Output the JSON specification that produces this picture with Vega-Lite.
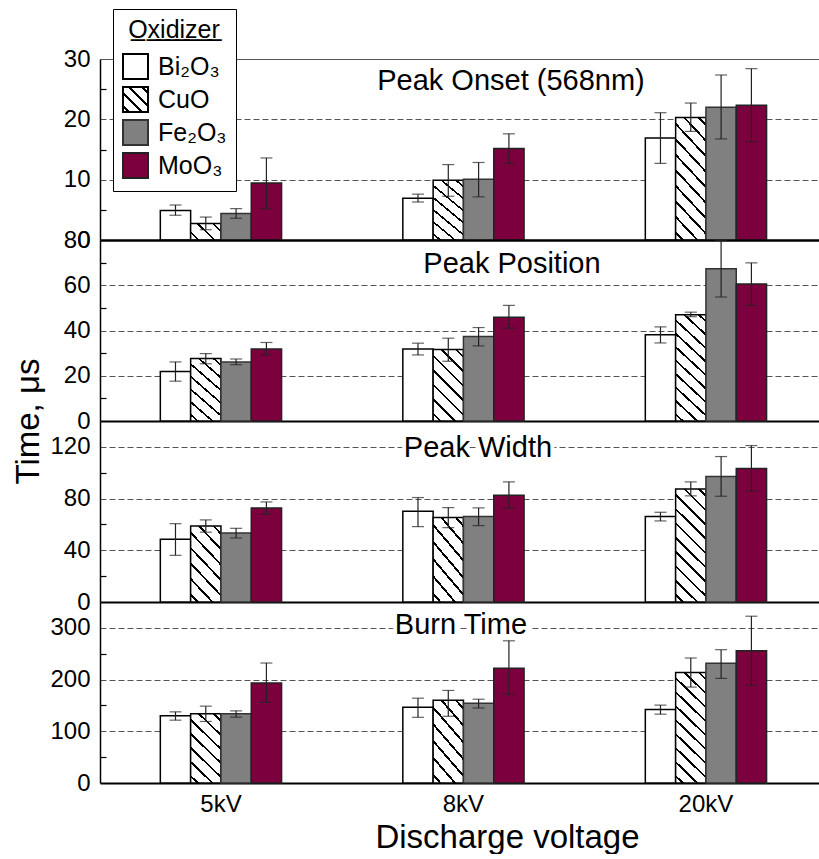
{
  "$schema": "https://vega.github.io/schema/vega-lite/v6.json",
  "padding": {"left": 12, "top": 8, "right": 0, "bottom": 0},
  "spacing": 0,
  "bounds": "flush",
  "config": {"font": "Liberation Sans", "view": {"stroke": null}},
  "resolve": {"scale": {"fill": "independent", "stroke": "independent"}},
  "datasets": {
    "d": [
      {"p": "onset", "v": "5kV", "ox": "Bi\u2082O\u2083", "m": 4.9, "lo": 4.1, "hi": 5.8},
      {"p": "onset", "v": "5kV", "ox": "CuO", "m": 2.75, "lo": 1.7, "hi": 3.8},
      {"p": "onset", "v": "5kV", "ox": "Fe\u2082O\u2083", "m": 4.4, "lo": 3.6, "hi": 5.2},
      {"p": "onset", "v": "5kV", "ox": "MoO\u2083", "m": 9.45, "lo": 5.2, "hi": 13.6},
      {"p": "onset", "v": "8kV", "ox": "Bi\u2082O\u2083", "m": 6.9, "lo": 6.3, "hi": 7.6},
      {"p": "onset", "v": "8kV", "ox": "CuO", "m": 9.9, "lo": 7.25, "hi": 12.5},
      {"p": "onset", "v": "8kV", "ox": "Fe\u2082O\u2083", "m": 10.05, "lo": 7.15, "hi": 12.85},
      {"p": "onset", "v": "8kV", "ox": "MoO\u2083", "m": 15.15, "lo": 12.7, "hi": 17.6},
      {"p": "onset", "v": "20kV", "ox": "Bi\u2082O\u2083", "m": 16.9, "lo": 12.7, "hi": 21.1},
      {"p": "onset", "v": "20kV", "ox": "CuO", "m": 20.3, "lo": 18.0, "hi": 22.7},
      {"p": "onset", "v": "20kV", "ox": "Fe\u2082O\u2083", "m": 22.0, "lo": 16.75, "hi": 27.35},
      {"p": "onset", "v": "20kV", "ox": "MoO\u2083", "m": 22.35, "lo": 16.3, "hi": 28.4},
      {"p": "pos", "v": "5kV", "ox": "Bi\u2082O\u2083", "m": 21.9, "lo": 17.6, "hi": 26.1},
      {"p": "pos", "v": "5kV", "ox": "CuO", "m": 27.6, "lo": 25.3, "hi": 29.8},
      {"p": "pos", "v": "5kV", "ox": "Fe\u2082O\u2083", "m": 26.1, "lo": 24.9, "hi": 27.4},
      {"p": "pos", "v": "5kV", "ox": "MoO\u2083", "m": 31.85, "lo": 29.2, "hi": 34.7},
      {"p": "pos", "v": "8kV", "ox": "Bi\u2082O\u2083", "m": 31.85, "lo": 29.2, "hi": 34.4},
      {"p": "pos", "v": "8kV", "ox": "CuO", "m": 31.6, "lo": 26.4, "hi": 36.6},
      {"p": "pos", "v": "8kV", "ox": "Fe\u2082O\u2083", "m": 37.3, "lo": 33.2, "hi": 41.3},
      {"p": "pos", "v": "8kV", "ox": "MoO\u2083", "m": 45.9, "lo": 41.0, "hi": 51.1},
      {"p": "pos", "v": "20kV", "ox": "Bi\u2082O\u2083", "m": 38.1, "lo": 34.5, "hi": 41.6},
      {"p": "pos", "v": "20kV", "ox": "CuO", "m": 47.0, "lo": 46.1, "hi": 48.1},
      {"p": "pos", "v": "20kV", "ox": "Fe\u2082O\u2083", "m": 67.3, "lo": 54.8, "hi": 79.8},
      {"p": "pos", "v": "20kV", "ox": "MoO\u2083", "m": 60.6, "lo": 51.1, "hi": 69.9},
      {"p": "width", "v": "5kV", "ox": "Bi\u2082O\u2083", "m": 48.5, "lo": 36.1, "hi": 60.6},
      {"p": "width", "v": "5kV", "ox": "CuO", "m": 58.8, "lo": 54.0, "hi": 63.5},
      {"p": "width", "v": "5kV", "ox": "Fe\u2082O\u2083", "m": 53.4, "lo": 49.5, "hi": 57.0},
      {"p": "width", "v": "5kV", "ox": "MoO\u2083", "m": 72.8, "lo": 68.0, "hi": 77.4},
      {"p": "width", "v": "8kV", "ox": "Bi\u2082O\u2083", "m": 70.2, "lo": 58.3, "hi": 80.8},
      {"p": "width", "v": "8kV", "ox": "CuO", "m": 65.3, "lo": 57.5, "hi": 73.0},
      {"p": "width", "v": "8kV", "ox": "Fe\u2082O\u2083", "m": 66.1, "lo": 59.1, "hi": 72.8},
      {"p": "width", "v": "8kV", "ox": "MoO\u2083", "m": 82.6, "lo": 72.5, "hi": 92.9},
      {"p": "width", "v": "20kV", "ox": "Bi\u2082O\u2083", "m": 66.1, "lo": 62.7, "hi": 69.4},
      {"p": "width", "v": "20kV", "ox": "CuO", "m": 87.5, "lo": 82.1, "hi": 92.9},
      {"p": "width", "v": "20kV", "ox": "Fe\u2082O\u2083", "m": 97.0, "lo": 81.8, "hi": 112.5},
      {"p": "width", "v": "20kV", "ox": "MoO\u2083", "m": 103.2, "lo": 85.7, "hi": 121.0},
      {"p": "burn", "v": "5kV", "ox": "Bi\u2082O\u2083", "m": 129.8, "lo": 121.5, "hi": 137.6},
      {"p": "burn", "v": "5kV", "ox": "CuO", "m": 133.7, "lo": 119.0, "hi": 148.6},
      {"p": "burn", "v": "5kV", "ox": "Fe\u2082O\u2083", "m": 133.7, "lo": 127.3, "hi": 139.5},
      {"p": "burn", "v": "5kV", "ox": "MoO\u2083", "m": 193.2, "lo": 155.8, "hi": 232.0},
      {"p": "burn", "v": "8kV", "ox": "Bi\u2082O\u2083", "m": 146.7, "lo": 127.0, "hi": 164.0},
      {"p": "burn", "v": "8kV", "ox": "CuO", "m": 160.0, "lo": 129.0, "hi": 179.0},
      {"p": "burn", "v": "8kV", "ox": "Fe\u2082O\u2083", "m": 154.0, "lo": 145.0, "hi": 162.0},
      {"p": "burn", "v": "8kV", "ox": "MoO\u2083", "m": 222.0, "lo": 172.0, "hi": 275.0},
      {"p": "burn", "v": "20kV", "ox": "Bi\u2082O\u2083", "m": 142.2, "lo": 133.1, "hi": 150.6},
      {"p": "burn", "v": "20kV", "ox": "CuO", "m": 213.9, "lo": 185.5, "hi": 241.7},
      {"p": "burn", "v": "20kV", "ox": "Fe\u2082O\u2083", "m": 231.4, "lo": 202.3, "hi": 257.8},
      {"p": "burn", "v": "20kV", "ox": "MoO\u2083", "m": 255.8, "lo": 188.8, "hi": 322.5}
    ]
  },
  "data": {"name": "d"},
  "vconcat": [
    {
      "width": 719, "height": 181,
      "transform": [{"filter": "datum.p === 'onset'"}],
      "resolve": {"axis": {"y": "independent"}},
      "layer": [
        {
          "mark": {"type": "bar", "strokeWidth": 1.5},
          "encoding": {
            "x": {"field": "v", "type": "nominal", "sort": ["5kV", "8kV", "20kV"], "scale": {"paddingInner": 0.5, "paddingOuter": 0.2325, "align": 0.535}, "axis": null},
            "xOffset": {"field": "ox", "type": "nominal", "sort": ["Bi\u2082O\u2083", "CuO", "Fe\u2082O\u2083", "MoO\u2083"], "scale": {"paddingInner": 0, "paddingOuter": 0}},
            "y": {"field": "m", "type": "quantitative", "scale": {"domain": [0, 30], "nice": false},
              "axis": {"values": [0, 10, 20, 30], "title": null, "ticks": false, "labelFontSize": 24, "labelColor": "black", "labelPadding": 10, "domainColor": "black", "domainWidth": 1.5, "grid": true,
                "gridColor": {"condition": {"test": "datum.value === 0", "value": "black"}, "value": "#555555"},
                "gridDash": {"condition": {"test": "datum.value === 0 || datum.value === 30", "value": []}, "value": [6, 3]},
                "gridWidth": {"condition": {"test": "datum.value === 0", "value": 2}, "value": 1}}},
            "stroke": {"field": "ox", "type": "nominal",
              "scale": {"domain": ["Bi\u2082O\u2083", "CuO", "Fe\u2082O\u2083", "MoO\u2083"], "range": ["#000000", "#000000", "#333333", "#222222"]},
              "legend": {"orient": "none", "legendX": 13, "legendY": -50, "title": "O\u0332x\u0332i\u0332d\u0332i\u0332z\u0332e\u0332r\u0332", "titleFontSize": 25, "titleFontWeight": "normal", "titleColor": "black", "titleAnchor": "middle", "titlePadding": 10, "labelFontSize": 25, "labelColor": "black", "labelOffset": 9, "symbolType": "square", "symbolSize": 625, "symbolStrokeWidth": 2, "symbolOpacity": 1, "rowPadding": 0, "padding": 9, "strokeColor": "black", "fillColor": "white"}},
            "fill": {
              "condition": [
                {"test": "datum.ox === 'CuO' && datum.m < 5", "value": {"gradient": "linear", "x1": 0, "y1": 1, "x2": 1.19, "y2": 0.335, "stops": [{"offset": 0, "color": "white"}, {"offset": 0.144, "color": "white"}, {"offset": 0.144, "color": "black"}, {"offset": 0.19, "color": "black"}, {"offset": 0.19, "color": "white"}, {"offset": 0.477, "color": "white"}, {"offset": 0.477, "color": "black"}, {"offset": 0.523, "color": "black"}, {"offset": 0.523, "color": "white"}, {"offset": 0.81, "color": "white"}, {"offset": 0.81, "color": "black"}, {"offset": 0.856, "color": "black"}, {"offset": 0.856, "color": "white"}, {"offset": 1, "color": "white"}]}},
                {"test": "datum.ox === 'CuO' && datum.m < 15", "value": {"gradient": "linear", "x1": 0, "y1": 1, "x2": 0.509, "y2": -0.206, "stops": [{"offset": 0, "color": "white"}, {"offset": 0.059, "color": "white"}, {"offset": 0.059, "color": "black"}, {"offset": 0.084, "color": "black"}, {"offset": 0.084, "color": "white"}, {"offset": 0.202, "color": "white"}, {"offset": 0.202, "color": "black"}, {"offset": 0.227, "color": "black"}, {"offset": 0.227, "color": "white"}, {"offset": 0.345, "color": "white"}, {"offset": 0.345, "color": "black"}, {"offset": 0.37, "color": "black"}, {"offset": 0.37, "color": "white"}, {"offset": 0.4875, "color": "white"}, {"offset": 0.4875, "color": "black"}, {"offset": 0.5125, "color": "black"}, {"offset": 0.5125, "color": "white"}, {"offset": 0.63, "color": "white"}, {"offset": 0.63, "color": "black"}, {"offset": 0.655, "color": "black"}, {"offset": 0.655, "color": "white"}, {"offset": 0.773, "color": "white"}, {"offset": 0.773, "color": "black"}, {"offset": 0.798, "color": "black"}, {"offset": 0.798, "color": "white"}, {"offset": 0.916, "color": "white"}, {"offset": 0.916, "color": "black"}, {"offset": 0.941, "color": "black"}, {"offset": 0.941, "color": "white"}, {"offset": 1, "color": "white"}]}},
                {"test": "datum.ox === 'CuO'", "value": {"gradient": "linear", "x1": 0, "y1": 1, "x2": 0.313, "y2": -0.182, "stops": [{"offset": 0, "color": "white"}, {"offset": 0.041, "color": "white"}, {"offset": 0.041, "color": "black"}, {"offset": 0.059, "color": "black"}, {"offset": 0.059, "color": "white"}, {"offset": 0.141, "color": "white"}, {"offset": 0.141, "color": "black"}, {"offset": 0.159, "color": "black"}, {"offset": 0.159, "color": "white"}, {"offset": 0.241, "color": "white"}, {"offset": 0.241, "color": "black"}, {"offset": 0.259, "color": "black"}, {"offset": 0.259, "color": "white"}, {"offset": 0.341, "color": "white"}, {"offset": 0.341, "color": "black"}, {"offset": 0.359, "color": "black"}, {"offset": 0.359, "color": "white"}, {"offset": 0.441, "color": "white"}, {"offset": 0.441, "color": "black"}, {"offset": 0.459, "color": "black"}, {"offset": 0.459, "color": "white"}, {"offset": 0.541, "color": "white"}, {"offset": 0.541, "color": "black"}, {"offset": 0.559, "color": "black"}, {"offset": 0.559, "color": "white"}, {"offset": 0.641, "color": "white"}, {"offset": 0.641, "color": "black"}, {"offset": 0.659, "color": "black"}, {"offset": 0.659, "color": "white"}, {"offset": 0.741, "color": "white"}, {"offset": 0.741, "color": "black"}, {"offset": 0.759, "color": "black"}, {"offset": 0.759, "color": "white"}, {"offset": 0.841, "color": "white"}, {"offset": 0.841, "color": "black"}, {"offset": 0.859, "color": "black"}, {"offset": 0.859, "color": "white"}, {"offset": 0.941, "color": "white"}, {"offset": 0.941, "color": "black"}, {"offset": 0.959, "color": "black"}, {"offset": 0.959, "color": "white"}, {"offset": 1, "color": "white"}]}}
              ],
              "field": "ox", "type": "nominal",
              "scale": {"domain": ["Bi\u2082O\u2083", "CuO", "Fe\u2082O\u2083", "MoO\u2083"], "range": ["#ffffff", {"expr": "{gradient: 'linear', x1: 0, y1: 1, x2: 1, y2: 0, stops: [{offset: 0, color: 'white'}, {offset: 0.095, color: 'white'}, {offset: 0.095, color: 'black'}, {offset: 0.155, color: 'black'}, {offset: 0.155, color: 'white'}, {offset: 0.345, color: 'white'}, {offset: 0.345, color: 'black'}, {offset: 0.405, color: 'black'}, {offset: 0.405, color: 'white'}, {offset: 0.595, color: 'white'}, {offset: 0.595, color: 'black'}, {offset: 0.655, color: 'black'}, {offset: 0.655, color: 'white'}, {offset: 0.845, color: 'white'}, {offset: 0.845, color: 'black'}, {offset: 0.905, color: 'black'}, {offset: 0.905, color: 'white'}, {offset: 1, color: 'white'}]}"}, "#808080", "#7d003e"]},
              "legend": {"orient": "none", "legendX": 13, "legendY": -50, "title": "O\u0332x\u0332i\u0332d\u0332i\u0332z\u0332e\u0332r\u0332", "titleFontSize": 25, "titleFontWeight": "normal", "titleColor": "black", "titleAnchor": "middle", "titlePadding": 10, "labelFontSize": 25, "labelColor": "black", "labelOffset": 9, "symbolType": "square", "symbolSize": 625, "symbolStrokeWidth": 2, "symbolOpacity": 1, "rowPadding": 0, "padding": 9, "strokeColor": "black", "fillColor": "white"}
            }
          }
        },
        {
          "mark": {"type": "rule", "color": "#222222", "strokeWidth": 1.2},
          "encoding": {
            "x": {"field": "v", "type": "nominal", "sort": ["5kV", "8kV", "20kV"], "scale": {"paddingInner": 0.5, "paddingOuter": 0.2325, "align": 0.535}, "axis": null},
            "xOffset": {"field": "ox", "type": "nominal", "sort": ["Bi\u2082O\u2083", "CuO", "Fe\u2082O\u2083", "MoO\u2083"], "scale": {"paddingInner": 0, "paddingOuter": 0}},
            "y": {"field": "lo", "type": "quantitative", "scale": {"domain": [0, 30], "nice": false},
              "axis": {"orient": "right", "offset": -719, "values": [5, 15, 25], "labels": false, "domain": false, "grid": false, "ticks": true, "tickSize": 6, "tickColor": "black", "tickWidth": 1.2, "title": null}},
            "y2": {"field": "hi"}
          }
        },
        {
          "mark": {"type": "tick", "color": "#222222", "size": 12, "thickness": 1.2},
          "encoding": {
            "x": {"field": "v", "type": "nominal", "sort": ["5kV", "8kV", "20kV"], "scale": {"paddingInner": 0.5, "paddingOuter": 0.2325, "align": 0.535}, "axis": null},
            "xOffset": {"field": "ox", "type": "nominal", "sort": ["Bi\u2082O\u2083", "CuO", "Fe\u2082O\u2083", "MoO\u2083"], "scale": {"paddingInner": 0, "paddingOuter": 0}},
            "y": {"field": "lo", "type": "quantitative", "scale": {"domain": [0, 30], "nice": false}, "axis": null}
          }
        },
        {
          "mark": {"type": "tick", "color": "#222222", "size": 12, "thickness": 1.2},
          "encoding": {
            "x": {"field": "v", "type": "nominal", "sort": ["5kV", "8kV", "20kV"], "scale": {"paddingInner": 0.5, "paddingOuter": 0.2325, "align": 0.535}, "axis": null},
            "xOffset": {"field": "ox", "type": "nominal", "sort": ["Bi\u2082O\u2083", "CuO", "Fe\u2082O\u2083", "MoO\u2083"], "scale": {"paddingInner": 0, "paddingOuter": 0}},
            "y": {"field": "hi", "type": "quantitative", "scale": {"domain": [0, 30], "nice": false}, "axis": null}
          }
        },
        {
          "transform": [{"filter": "datum.v === '8kV' && datum.ox === 'CuO'"}],
          "mark": {"type": "text", "fontSize": 29, "baseline": "alphabetic", "align": "center", "dx": 47.5, "color": "black"},
          "encoding": {
            "x": {"field": "v", "type": "nominal", "sort": ["5kV", "8kV", "20kV"], "scale": {"paddingInner": 0.5, "paddingOuter": 0.2325, "align": 0.535}, "axis": null},
            "y": {"datum": 24.9, "type": "quantitative", "scale": {"domain": [0, 30], "nice": false}, "axis": null},
            "text": {"value": "Peak Onset (568nm)"}
          }
        }
      ]
    },
    {
      "width": 719, "height": 181,
      "transform": [{"filter": "datum.p === 'pos'"}],
      "resolve": {"axis": {"y": "independent"}},
      "layer": [
        {
          "mark": {"type": "bar", "strokeWidth": 1.5},
          "encoding": {
            "x": {"field": "v", "type": "nominal", "sort": ["5kV", "8kV", "20kV"], "scale": {"paddingInner": 0.5, "paddingOuter": 0.2325, "align": 0.535}, "axis": null},
            "xOffset": {"field": "ox", "type": "nominal", "sort": ["Bi\u2082O\u2083", "CuO", "Fe\u2082O\u2083", "MoO\u2083"], "scale": {"paddingInner": 0, "paddingOuter": 0}},
            "y": {"field": "m", "type": "quantitative", "scale": {"domain": [0, 80], "nice": false},
              "axis": {"values": [0, 20, 40, 60, 80], "title": "Time, \u03bcs", "titleFontSize": 33, "titleFontWeight": "normal", "titleColor": "black", "titleX": -55, "titleY": 181, "titleAngle": -90, "titleAlign": "center", "titleBaseline": "bottom",
                "ticks": false, "labelFontSize": 24, "labelColor": "black", "labelPadding": 10, "domainColor": "black", "domainWidth": 1.5, "grid": true,
                "gridColor": {"condition": {"test": "datum.value === 0 || datum.value === 80", "value": "black"}, "value": "#555555"},
                "gridDash": {"condition": {"test": "datum.value === 0 || datum.value === 80", "value": []}, "value": [6, 3]},
                "gridWidth": {"condition": {"test": "datum.value === 0 || datum.value === 80", "value": 2}, "value": 1}}},
            "stroke": {"field": "ox", "type": "nominal", "scale": {"domain": ["Bi\u2082O\u2083", "CuO", "Fe\u2082O\u2083", "MoO\u2083"], "range": ["#000000", "#000000", "#333333", "#222222"]}, "legend": null},
            "fill": {
              "condition": [
                {"test": "datum.ox === 'CuO' && datum.m < 40", "value": {"gradient": "linear", "x1": 0, "y1": 1, "x2": 0.509, "y2": -0.206, "stops": [{"offset": 0, "color": "white"}, {"offset": 0.059, "color": "white"}, {"offset": 0.059, "color": "black"}, {"offset": 0.084, "color": "black"}, {"offset": 0.084, "color": "white"}, {"offset": 0.202, "color": "white"}, {"offset": 0.202, "color": "black"}, {"offset": 0.227, "color": "black"}, {"offset": 0.227, "color": "white"}, {"offset": 0.345, "color": "white"}, {"offset": 0.345, "color": "black"}, {"offset": 0.37, "color": "black"}, {"offset": 0.37, "color": "white"}, {"offset": 0.4875, "color": "white"}, {"offset": 0.4875, "color": "black"}, {"offset": 0.5125, "color": "black"}, {"offset": 0.5125, "color": "white"}, {"offset": 0.63, "color": "white"}, {"offset": 0.63, "color": "black"}, {"offset": 0.655, "color": "black"}, {"offset": 0.655, "color": "white"}, {"offset": 0.773, "color": "white"}, {"offset": 0.773, "color": "black"}, {"offset": 0.798, "color": "black"}, {"offset": 0.798, "color": "white"}, {"offset": 0.916, "color": "white"}, {"offset": 0.916, "color": "black"}, {"offset": 0.941, "color": "black"}, {"offset": 0.941, "color": "white"}, {"offset": 1, "color": "white"}]}},
                {"test": "datum.ox === 'CuO'", "value": {"gradient": "linear", "x1": 0, "y1": 1, "x2": 0.313, "y2": -0.182, "stops": [{"offset": 0, "color": "white"}, {"offset": 0.041, "color": "white"}, {"offset": 0.041, "color": "black"}, {"offset": 0.059, "color": "black"}, {"offset": 0.059, "color": "white"}, {"offset": 0.141, "color": "white"}, {"offset": 0.141, "color": "black"}, {"offset": 0.159, "color": "black"}, {"offset": 0.159, "color": "white"}, {"offset": 0.241, "color": "white"}, {"offset": 0.241, "color": "black"}, {"offset": 0.259, "color": "black"}, {"offset": 0.259, "color": "white"}, {"offset": 0.341, "color": "white"}, {"offset": 0.341, "color": "black"}, {"offset": 0.359, "color": "black"}, {"offset": 0.359, "color": "white"}, {"offset": 0.441, "color": "white"}, {"offset": 0.441, "color": "black"}, {"offset": 0.459, "color": "black"}, {"offset": 0.459, "color": "white"}, {"offset": 0.541, "color": "white"}, {"offset": 0.541, "color": "black"}, {"offset": 0.559, "color": "black"}, {"offset": 0.559, "color": "white"}, {"offset": 0.641, "color": "white"}, {"offset": 0.641, "color": "black"}, {"offset": 0.659, "color": "black"}, {"offset": 0.659, "color": "white"}, {"offset": 0.741, "color": "white"}, {"offset": 0.741, "color": "black"}, {"offset": 0.759, "color": "black"}, {"offset": 0.759, "color": "white"}, {"offset": 0.841, "color": "white"}, {"offset": 0.841, "color": "black"}, {"offset": 0.859, "color": "black"}, {"offset": 0.859, "color": "white"}, {"offset": 0.941, "color": "white"}, {"offset": 0.941, "color": "black"}, {"offset": 0.959, "color": "black"}, {"offset": 0.959, "color": "white"}, {"offset": 1, "color": "white"}]}}
              ],
              "field": "ox", "type": "nominal",
              "scale": {"domain": ["Bi\u2082O\u2083", "CuO", "Fe\u2082O\u2083", "MoO\u2083"], "range": ["#ffffff", "#ffffff", "#808080", "#7d003e"]},
              "legend": null
            }
          }
        },
        {
          "mark": {"type": "rule", "color": "#222222", "strokeWidth": 1.2},
          "encoding": {
            "x": {"field": "v", "type": "nominal", "sort": ["5kV", "8kV", "20kV"], "scale": {"paddingInner": 0.5, "paddingOuter": 0.2325, "align": 0.535}, "axis": null},
            "xOffset": {"field": "ox", "type": "nominal", "sort": ["Bi\u2082O\u2083", "CuO", "Fe\u2082O\u2083", "MoO\u2083"], "scale": {"paddingInner": 0, "paddingOuter": 0}},
            "y": {"field": "lo", "type": "quantitative", "scale": {"domain": [0, 80], "nice": false},
              "axis": {"orient": "right", "offset": -719, "values": [10, 30, 50, 70], "labels": false, "domain": false, "grid": false, "ticks": true, "tickSize": 6, "tickColor": "black", "tickWidth": 1.2, "title": null}},
            "y2": {"field": "hi"}
          }
        },
        {
          "mark": {"type": "tick", "color": "#222222", "size": 12, "thickness": 1.2},
          "encoding": {
            "x": {"field": "v", "type": "nominal", "sort": ["5kV", "8kV", "20kV"], "scale": {"paddingInner": 0.5, "paddingOuter": 0.2325, "align": 0.535}, "axis": null},
            "xOffset": {"field": "ox", "type": "nominal", "sort": ["Bi\u2082O\u2083", "CuO", "Fe\u2082O\u2083", "MoO\u2083"], "scale": {"paddingInner": 0, "paddingOuter": 0}},
            "y": {"field": "lo", "type": "quantitative", "scale": {"domain": [0, 80], "nice": false}, "axis": null}
          }
        },
        {
          "mark": {"type": "tick", "color": "#222222", "size": 12, "thickness": 1.2},
          "encoding": {
            "x": {"field": "v", "type": "nominal", "sort": ["5kV", "8kV", "20kV"], "scale": {"paddingInner": 0.5, "paddingOuter": 0.2325, "align": 0.535}, "axis": null},
            "xOffset": {"field": "ox", "type": "nominal", "sort": ["Bi\u2082O\u2083", "CuO", "Fe\u2082O\u2083", "MoO\u2083"], "scale": {"paddingInner": 0, "paddingOuter": 0}},
            "y": {"field": "hi", "type": "quantitative", "scale": {"domain": [0, 80], "nice": false}, "axis": null}
          }
        },
        {
          "transform": [{"filter": "datum.v === '8kV' && datum.ox === 'CuO'"}],
          "mark": {"type": "text", "fontSize": 29, "baseline": "alphabetic", "align": "center", "dx": 48.5, "color": "black"},
          "encoding": {
            "x": {"field": "v", "type": "nominal", "sort": ["5kV", "8kV", "20kV"], "scale": {"paddingInner": 0.5, "paddingOuter": 0.2325, "align": 0.535}, "axis": null},
            "y": {"datum": 65.3, "type": "quantitative", "scale": {"domain": [0, 80], "nice": false}, "axis": null},
            "text": {"value": "Peak Position"}
          }
        }
      ]
    },
    {
      "width": 719, "height": 181,
      "transform": [{"filter": "datum.p === 'width'"}],
      "resolve": {"axis": {"y": "independent"}},
      "layer": [
        {
          "mark": {"type": "bar", "strokeWidth": 1.5},
          "encoding": {
            "x": {"field": "v", "type": "nominal", "sort": ["5kV", "8kV", "20kV"], "scale": {"paddingInner": 0.5, "paddingOuter": 0.2325, "align": 0.535}, "axis": null},
            "xOffset": {"field": "ox", "type": "nominal", "sort": ["Bi\u2082O\u2083", "CuO", "Fe\u2082O\u2083", "MoO\u2083"], "scale": {"paddingInner": 0, "paddingOuter": 0}},
            "y": {"field": "m", "type": "quantitative", "scale": {"domain": [0, 140], "nice": false},
              "axis": {"values": [0, 40, 80, 120], "title": null, "ticks": false, "labelFontSize": 24, "labelColor": "black", "labelPadding": 10, "domainColor": "black", "domainWidth": 1.5, "grid": true,
                "gridColor": {"condition": {"test": "datum.value === 0", "value": "black"}, "value": "#555555"},
                "gridDash": {"condition": {"test": "datum.value === 0", "value": []}, "value": [6, 3]},
                "gridWidth": {"condition": {"test": "datum.value === 0", "value": 2}, "value": 1}}},
            "stroke": {"field": "ox", "type": "nominal", "scale": {"domain": ["Bi\u2082O\u2083", "CuO", "Fe\u2082O\u2083", "MoO\u2083"], "range": ["#000000", "#000000", "#333333", "#222222"]}, "legend": null},
            "fill": {
              "condition": [
                {"test": "datum.ox === 'CuO' && datum.m < 75", "value": {"gradient": "linear", "x1": 0, "y1": 1, "x2": 0.509, "y2": -0.206, "stops": [{"offset": 0, "color": "white"}, {"offset": 0.059, "color": "white"}, {"offset": 0.059, "color": "black"}, {"offset": 0.084, "color": "black"}, {"offset": 0.084, "color": "white"}, {"offset": 0.202, "color": "white"}, {"offset": 0.202, "color": "black"}, {"offset": 0.227, "color": "black"}, {"offset": 0.227, "color": "white"}, {"offset": 0.345, "color": "white"}, {"offset": 0.345, "color": "black"}, {"offset": 0.37, "color": "black"}, {"offset": 0.37, "color": "white"}, {"offset": 0.4875, "color": "white"}, {"offset": 0.4875, "color": "black"}, {"offset": 0.5125, "color": "black"}, {"offset": 0.5125, "color": "white"}, {"offset": 0.63, "color": "white"}, {"offset": 0.63, "color": "black"}, {"offset": 0.655, "color": "black"}, {"offset": 0.655, "color": "white"}, {"offset": 0.773, "color": "white"}, {"offset": 0.773, "color": "black"}, {"offset": 0.798, "color": "black"}, {"offset": 0.798, "color": "white"}, {"offset": 0.916, "color": "white"}, {"offset": 0.916, "color": "black"}, {"offset": 0.941, "color": "black"}, {"offset": 0.941, "color": "white"}, {"offset": 1, "color": "white"}]}},
                {"test": "datum.ox === 'CuO'", "value": {"gradient": "linear", "x1": 0, "y1": 1, "x2": 0.313, "y2": -0.182, "stops": [{"offset": 0, "color": "white"}, {"offset": 0.041, "color": "white"}, {"offset": 0.041, "color": "black"}, {"offset": 0.059, "color": "black"}, {"offset": 0.059, "color": "white"}, {"offset": 0.141, "color": "white"}, {"offset": 0.141, "color": "black"}, {"offset": 0.159, "color": "black"}, {"offset": 0.159, "color": "white"}, {"offset": 0.241, "color": "white"}, {"offset": 0.241, "color": "black"}, {"offset": 0.259, "color": "black"}, {"offset": 0.259, "color": "white"}, {"offset": 0.341, "color": "white"}, {"offset": 0.341, "color": "black"}, {"offset": 0.359, "color": "black"}, {"offset": 0.359, "color": "white"}, {"offset": 0.441, "color": "white"}, {"offset": 0.441, "color": "black"}, {"offset": 0.459, "color": "black"}, {"offset": 0.459, "color": "white"}, {"offset": 0.541, "color": "white"}, {"offset": 0.541, "color": "black"}, {"offset": 0.559, "color": "black"}, {"offset": 0.559, "color": "white"}, {"offset": 0.641, "color": "white"}, {"offset": 0.641, "color": "black"}, {"offset": 0.659, "color": "black"}, {"offset": 0.659, "color": "white"}, {"offset": 0.741, "color": "white"}, {"offset": 0.741, "color": "black"}, {"offset": 0.759, "color": "black"}, {"offset": 0.759, "color": "white"}, {"offset": 0.841, "color": "white"}, {"offset": 0.841, "color": "black"}, {"offset": 0.859, "color": "black"}, {"offset": 0.859, "color": "white"}, {"offset": 0.941, "color": "white"}, {"offset": 0.941, "color": "black"}, {"offset": 0.959, "color": "black"}, {"offset": 0.959, "color": "white"}, {"offset": 1, "color": "white"}]}}
              ],
              "field": "ox", "type": "nominal",
              "scale": {"domain": ["Bi\u2082O\u2083", "CuO", "Fe\u2082O\u2083", "MoO\u2083"], "range": ["#ffffff", "#ffffff", "#808080", "#7d003e"]},
              "legend": null
            }
          }
        },
        {
          "mark": {"type": "rule", "color": "#222222", "strokeWidth": 1.2},
          "encoding": {
            "x": {"field": "v", "type": "nominal", "sort": ["5kV", "8kV", "20kV"], "scale": {"paddingInner": 0.5, "paddingOuter": 0.2325, "align": 0.535}, "axis": null},
            "xOffset": {"field": "ox", "type": "nominal", "sort": ["Bi\u2082O\u2083", "CuO", "Fe\u2082O\u2083", "MoO\u2083"], "scale": {"paddingInner": 0, "paddingOuter": 0}},
            "y": {"field": "lo", "type": "quantitative", "scale": {"domain": [0, 140], "nice": false},
              "axis": {"orient": "right", "offset": -719, "values": [20, 60, 100], "labels": false, "domain": false, "grid": false, "ticks": true, "tickSize": 6, "tickColor": "black", "tickWidth": 1.2, "title": null}},
            "y2": {"field": "hi"}
          }
        },
        {
          "mark": {"type": "tick", "color": "#222222", "size": 12, "thickness": 1.2},
          "encoding": {
            "x": {"field": "v", "type": "nominal", "sort": ["5kV", "8kV", "20kV"], "scale": {"paddingInner": 0.5, "paddingOuter": 0.2325, "align": 0.535}, "axis": null},
            "xOffset": {"field": "ox", "type": "nominal", "sort": ["Bi\u2082O\u2083", "CuO", "Fe\u2082O\u2083", "MoO\u2083"], "scale": {"paddingInner": 0, "paddingOuter": 0}},
            "y": {"field": "lo", "type": "quantitative", "scale": {"domain": [0, 140], "nice": false}, "axis": null}
          }
        },
        {
          "mark": {"type": "tick", "color": "#222222", "size": 12, "thickness": 1.2},
          "encoding": {
            "x": {"field": "v", "type": "nominal", "sort": ["5kV", "8kV", "20kV"], "scale": {"paddingInner": 0.5, "paddingOuter": 0.2325, "align": 0.535}, "axis": null},
            "xOffset": {"field": "ox", "type": "nominal", "sort": ["Bi\u2082O\u2083", "CuO", "Fe\u2082O\u2083", "MoO\u2083"], "scale": {"paddingInner": 0, "paddingOuter": 0}},
            "y": {"field": "hi", "type": "quantitative", "scale": {"domain": [0, 140], "nice": false}, "axis": null}
          }
        },
        {
          "transform": [{"filter": "datum.v === '8kV' && datum.ox === 'CuO'"}],
          "mark": {"type": "text", "fontSize": 29, "baseline": "alphabetic", "align": "center", "dx": 14.5, "color": "white", "stroke": "white", "strokeWidth": 8},
          "encoding": {
            "x": {"field": "v", "type": "nominal", "sort": ["5kV", "8kV", "20kV"], "scale": {"paddingInner": 0.5, "paddingOuter": 0.2325, "align": 0.535}, "axis": null},
            "y": {"datum": 112.3, "type": "quantitative", "scale": {"domain": [0, 140], "nice": false}, "axis": null},
            "text": {"value": "Peak Width"}
          }
        },
        {
          "transform": [{"filter": "datum.v === '8kV' && datum.ox === 'CuO'"}],
          "mark": {"type": "text", "fontSize": 29, "baseline": "alphabetic", "align": "center", "dx": 14.5, "color": "black"},
          "encoding": {
            "x": {"field": "v", "type": "nominal", "sort": ["5kV", "8kV", "20kV"], "scale": {"paddingInner": 0.5, "paddingOuter": 0.2325, "align": 0.535}, "axis": null},
            "y": {"datum": 112.3, "type": "quantitative", "scale": {"domain": [0, 140], "nice": false}, "axis": null},
            "text": {"value": "Peak Width"}
          }
        }
      ]
    },
    {
      "width": 719, "height": 181,
      "transform": [{"filter": "datum.p === 'burn'"}],
      "resolve": {"axis": {"y": "independent"}},
      "layer": [
        {
          "mark": {"type": "bar", "strokeWidth": 1.5},
          "encoding": {
            "x": {"field": "v", "type": "nominal", "sort": ["5kV", "8kV", "20kV"], "scale": {"paddingInner": 0.5, "paddingOuter": 0.2325, "align": 0.535},
              "axis": {"title": "Discharge voltage", "titleFontSize": 33, "titleFontWeight": "normal", "titleColor": "black", "titlePadding": 5, "titleX": 407, "labelFontSize": 24, "labelColor": "black", "labelAngle": 0, "labelPadding": 9, "labelExpr": "datum.value === '8kV' ? '8kV\u00a0\u00a0\u00a0\u00a0\u00a0' : (datum.value === '5kV' ? '5kV\u00a0\u00a0' : '\u00a0\u00a0\u00a0' + datum.value)", "ticks": false, "domain": false}},
            "xOffset": {"field": "ox", "type": "nominal", "sort": ["Bi\u2082O\u2083", "CuO", "Fe\u2082O\u2083", "MoO\u2083"], "scale": {"paddingInner": 0, "paddingOuter": 0}},
            "y": {"field": "m", "type": "quantitative", "scale": {"domain": [0, 350], "nice": false},
              "axis": {"values": [0, 100, 200, 300], "title": null, "ticks": false, "labelFontSize": 24, "labelColor": "black", "labelPadding": 10, "domainColor": "black", "domainWidth": 1.5, "grid": true,
                "gridColor": {"condition": {"test": "datum.value === 0", "value": "black"}, "value": "#555555"},
                "gridDash": {"condition": {"test": "datum.value === 0", "value": []}, "value": [6, 3]},
                "gridWidth": {"condition": {"test": "datum.value === 0", "value": 2}, "value": 1}}},
            "stroke": {"field": "ox", "type": "nominal", "scale": {"domain": ["Bi\u2082O\u2083", "CuO", "Fe\u2082O\u2083", "MoO\u2083"], "range": ["#000000", "#000000", "#333333", "#222222"]}, "legend": null},
            "fill": {
              "condition": [
                {"test": "datum.ox === 'CuO' && datum.m < 190", "value": {"gradient": "linear", "x1": 0, "y1": 1, "x2": 0.509, "y2": -0.206, "stops": [{"offset": 0, "color": "white"}, {"offset": 0.059, "color": "white"}, {"offset": 0.059, "color": "black"}, {"offset": 0.084, "color": "black"}, {"offset": 0.084, "color": "white"}, {"offset": 0.202, "color": "white"}, {"offset": 0.202, "color": "black"}, {"offset": 0.227, "color": "black"}, {"offset": 0.227, "color": "white"}, {"offset": 0.345, "color": "white"}, {"offset": 0.345, "color": "black"}, {"offset": 0.37, "color": "black"}, {"offset": 0.37, "color": "white"}, {"offset": 0.4875, "color": "white"}, {"offset": 0.4875, "color": "black"}, {"offset": 0.5125, "color": "black"}, {"offset": 0.5125, "color": "white"}, {"offset": 0.63, "color": "white"}, {"offset": 0.63, "color": "black"}, {"offset": 0.655, "color": "black"}, {"offset": 0.655, "color": "white"}, {"offset": 0.773, "color": "white"}, {"offset": 0.773, "color": "black"}, {"offset": 0.798, "color": "black"}, {"offset": 0.798, "color": "white"}, {"offset": 0.916, "color": "white"}, {"offset": 0.916, "color": "black"}, {"offset": 0.941, "color": "black"}, {"offset": 0.941, "color": "white"}, {"offset": 1, "color": "white"}]}},
                {"test": "datum.ox === 'CuO'", "value": {"gradient": "linear", "x1": 0, "y1": 1, "x2": 0.313, "y2": -0.182, "stops": [{"offset": 0, "color": "white"}, {"offset": 0.041, "color": "white"}, {"offset": 0.041, "color": "black"}, {"offset": 0.059, "color": "black"}, {"offset": 0.059, "color": "white"}, {"offset": 0.141, "color": "white"}, {"offset": 0.141, "color": "black"}, {"offset": 0.159, "color": "black"}, {"offset": 0.159, "color": "white"}, {"offset": 0.241, "color": "white"}, {"offset": 0.241, "color": "black"}, {"offset": 0.259, "color": "black"}, {"offset": 0.259, "color": "white"}, {"offset": 0.341, "color": "white"}, {"offset": 0.341, "color": "black"}, {"offset": 0.359, "color": "black"}, {"offset": 0.359, "color": "white"}, {"offset": 0.441, "color": "white"}, {"offset": 0.441, "color": "black"}, {"offset": 0.459, "color": "black"}, {"offset": 0.459, "color": "white"}, {"offset": 0.541, "color": "white"}, {"offset": 0.541, "color": "black"}, {"offset": 0.559, "color": "black"}, {"offset": 0.559, "color": "white"}, {"offset": 0.641, "color": "white"}, {"offset": 0.641, "color": "black"}, {"offset": 0.659, "color": "black"}, {"offset": 0.659, "color": "white"}, {"offset": 0.741, "color": "white"}, {"offset": 0.741, "color": "black"}, {"offset": 0.759, "color": "black"}, {"offset": 0.759, "color": "white"}, {"offset": 0.841, "color": "white"}, {"offset": 0.841, "color": "black"}, {"offset": 0.859, "color": "black"}, {"offset": 0.859, "color": "white"}, {"offset": 0.941, "color": "white"}, {"offset": 0.941, "color": "black"}, {"offset": 0.959, "color": "black"}, {"offset": 0.959, "color": "white"}, {"offset": 1, "color": "white"}]}}
              ],
              "field": "ox", "type": "nominal",
              "scale": {"domain": ["Bi\u2082O\u2083", "CuO", "Fe\u2082O\u2083", "MoO\u2083"], "range": ["#ffffff", "#ffffff", "#808080", "#7d003e"]},
              "legend": null
            }
          }
        },
        {
          "mark": {"type": "rule", "color": "#222222", "strokeWidth": 1.2},
          "encoding": {
            "x": {"field": "v", "type": "nominal", "sort": ["5kV", "8kV", "20kV"], "scale": {"paddingInner": 0.5, "paddingOuter": 0.2325, "align": 0.535},
              "axis": {"title": "Discharge voltage", "titleFontSize": 33, "titleFontWeight": "normal", "titleColor": "black", "titlePadding": 5, "titleX": 407, "labelFontSize": 24, "labelColor": "black", "labelAngle": 0, "labelPadding": 9, "labelExpr": "datum.value === '8kV' ? '8kV\u00a0\u00a0\u00a0\u00a0\u00a0' : (datum.value === '5kV' ? '5kV\u00a0\u00a0' : '\u00a0\u00a0\u00a0' + datum.value)", "ticks": false, "domain": false}},
            "xOffset": {"field": "ox", "type": "nominal", "sort": ["Bi\u2082O\u2083", "CuO", "Fe\u2082O\u2083", "MoO\u2083"], "scale": {"paddingInner": 0, "paddingOuter": 0}},
            "y": {"field": "lo", "type": "quantitative", "scale": {"domain": [0, 350], "nice": false},
              "axis": {"orient": "right", "offset": -719, "values": [50, 150, 250], "labels": false, "domain": false, "grid": false, "ticks": true, "tickSize": 6, "tickColor": "black", "tickWidth": 1.2, "title": null}},
            "y2": {"field": "hi"}
          }
        },
        {
          "mark": {"type": "tick", "color": "#222222", "size": 12, "thickness": 1.2},
          "encoding": {
            "x": {"field": "v", "type": "nominal", "sort": ["5kV", "8kV", "20kV"], "scale": {"paddingInner": 0.5, "paddingOuter": 0.2325, "align": 0.535},
              "axis": {"title": "Discharge voltage", "titleFontSize": 33, "titleFontWeight": "normal", "titleColor": "black", "titlePadding": 5, "titleX": 407, "labelFontSize": 24, "labelColor": "black", "labelAngle": 0, "labelPadding": 9, "labelExpr": "datum.value === '8kV' ? '8kV\u00a0\u00a0\u00a0\u00a0\u00a0' : (datum.value === '5kV' ? '5kV\u00a0\u00a0' : '\u00a0\u00a0\u00a0' + datum.value)", "ticks": false, "domain": false}},
            "xOffset": {"field": "ox", "type": "nominal", "sort": ["Bi\u2082O\u2083", "CuO", "Fe\u2082O\u2083", "MoO\u2083"], "scale": {"paddingInner": 0, "paddingOuter": 0}},
            "y": {"field": "lo", "type": "quantitative", "scale": {"domain": [0, 350], "nice": false}, "axis": null}
          }
        },
        {
          "mark": {"type": "tick", "color": "#222222", "size": 12, "thickness": 1.2},
          "encoding": {
            "x": {"field": "v", "type": "nominal", "sort": ["5kV", "8kV", "20kV"], "scale": {"paddingInner": 0.5, "paddingOuter": 0.2325, "align": 0.535},
              "axis": {"title": "Discharge voltage", "titleFontSize": 33, "titleFontWeight": "normal", "titleColor": "black", "titlePadding": 5, "titleX": 407, "labelFontSize": 24, "labelColor": "black", "labelAngle": 0, "labelPadding": 9, "labelExpr": "datum.value === '8kV' ? '8kV\u00a0\u00a0\u00a0\u00a0\u00a0' : (datum.value === '5kV' ? '5kV\u00a0\u00a0' : '\u00a0\u00a0\u00a0' + datum.value)", "ticks": false, "domain": false}},
            "xOffset": {"field": "ox", "type": "nominal", "sort": ["Bi\u2082O\u2083", "CuO", "Fe\u2082O\u2083", "MoO\u2083"], "scale": {"paddingInner": 0, "paddingOuter": 0}},
            "y": {"field": "hi", "type": "quantitative", "scale": {"domain": [0, 350], "nice": false}, "axis": null}
          }
        },
        {
          "transform": [{"filter": "datum.v === '8kV' && datum.ox === 'CuO'"}],
          "mark": {"type": "text", "fontSize": 29, "baseline": "alphabetic", "align": "center", "dx": -2.5, "color": "white", "stroke": "white", "strokeWidth": 8},
          "encoding": {
            "x": {"field": "v", "type": "nominal", "sort": ["5kV", "8kV", "20kV"], "scale": {"paddingInner": 0.5, "paddingOuter": 0.2325, "align": 0.535},
              "axis": {"title": "Discharge voltage", "titleFontSize": 33, "titleFontWeight": "normal", "titleColor": "black", "titlePadding": 5, "titleX": 407, "labelFontSize": 24, "labelColor": "black", "labelAngle": 0, "labelPadding": 9, "labelExpr": "datum.value === '8kV' ? '8kV\u00a0\u00a0\u00a0\u00a0\u00a0' : (datum.value === '5kV' ? '5kV\u00a0\u00a0' : '\u00a0\u00a0\u00a0' + datum.value)", "ticks": false, "domain": false}},
            "y": {"datum": 288, "type": "quantitative", "scale": {"domain": [0, 350], "nice": false}, "axis": null},
            "text": {"value": "Burn Time"}
          }
        },
        {
          "transform": [{"filter": "datum.v === '8kV' && datum.ox === 'CuO'"}],
          "mark": {"type": "text", "fontSize": 29, "baseline": "alphabetic", "align": "center", "dx": -2.5, "color": "black"},
          "encoding": {
            "x": {"field": "v", "type": "nominal", "sort": ["5kV", "8kV", "20kV"], "scale": {"paddingInner": 0.5, "paddingOuter": 0.2325, "align": 0.535},
              "axis": {"title": "Discharge voltage", "titleFontSize": 33, "titleFontWeight": "normal", "titleColor": "black", "titlePadding": 5, "titleX": 407, "labelFontSize": 24, "labelColor": "black", "labelAngle": 0, "labelPadding": 9, "labelExpr": "datum.value === '8kV' ? '8kV\u00a0\u00a0\u00a0\u00a0\u00a0' : (datum.value === '5kV' ? '5kV\u00a0\u00a0' : '\u00a0\u00a0\u00a0' + datum.value)", "ticks": false, "domain": false}},
            "y": {"datum": 288, "type": "quantitative", "scale": {"domain": [0, 350], "nice": false}, "axis": null},
            "text": {"value": "Burn Time"}
          }
        }
      ]
    }
  ]
}
